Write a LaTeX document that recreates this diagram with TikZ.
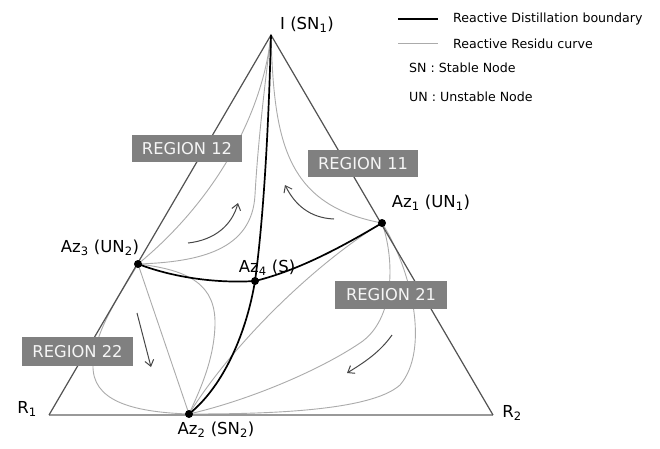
\documentclass[tikz,border=0pt]{standalone}
\usepackage{fontspec}
\setmainfont{DejaVu Sans}
\usetikzlibrary{arrows.meta}
\begin{document}
\begin{tikzpicture}[x=1pt,y=-1pt,
  edge/.style={draw=black!68, line width=1.2pt},
  baseedge/.style={draw=black!40, line width=1.8pt},
  bnd/.style={draw=black, line width=1.7pt},
  rcurve/.style={draw=black!33, line width=0.9pt},
  flow/.style={draw=black!72, line width=1pt, -{Straight Barb[length=6pt,width=9pt,line width=1pt]}},
  region/.style={fill=black!50, text=black!4, font=\fontsize{16.3}{18}\selectfont, minimum height=27pt, inner sep=0pt},
  azpt/.style={circle, fill=black, minimum size=8pt, inner sep=0pt},
  lbl/.style={font=\fontsize{16.5}{18}\selectfont, inner sep=0pt},
  leg/.style={font=\fontsize{12.6}{14}\selectfont, anchor=west, inner sep=0pt}
]
\useasboundingbox[fill=white] (0,0) rectangle (660,448);
% vertices
\coordinate (I) at (271,35);
\coordinate (R1) at (49,415);
\coordinate (R2) at (493,415);
\coordinate (Az1c) at (382,223);
\coordinate (Az2c) at (189,414);
\coordinate (Az3c) at (138,264);
\coordinate (Az4c) at (255,281);
% residue curves
\draw[rcurve] (Az3c) .. controls (210,205) and (262,120) .. (I);
\draw[rcurve] (Az3c) .. controls (200,262) and (252,250) .. (255,195) .. controls (258,140) and (266,75) .. (I);
\draw[rcurve] (I) .. controls (274,140) and (285,205) .. (Az1c);
\draw[rcurve] (Az1c) .. controls (320,260) and (235,340) .. (Az2c);
\draw[rcurve] (Az1c) .. controls (395,260) and (395,320) .. (360,343) .. controls (320,370) and (250,400) .. (Az2c);
\draw[rcurve] (Az1c) .. controls (412,270) and (430,350) .. (400,385) .. controls (370,412) and (260,414) .. (Az2c);
\draw[rcurve] (Az3c) -- (Az2c);
\draw[rcurve] (Az3c) .. controls (118,298) and (95,330) .. (93,365) .. controls (92,400) and (130,412) .. (Az2c);
\draw[rcurve] (Az3c) .. controls (190,270) and (216,285) .. (215,325) .. controls (214,360) and (200,390) .. (Az2c);
% triangle
\draw[baseedge] (R1) -- (R2);
\draw[edge] (R1) -- (I) -- (R2);
% boundaries
\draw[bnd] (I) .. controls (268,150) and (262,230) .. (Az4c);
\draw[bnd] (Az4c) .. controls (247,330) and (225,385) .. (Az2c);
\draw[bnd] (Az3c) .. controls (180,280) and (225,283) .. (Az4c);
\draw[bnd] (Az4c) .. controls (300,270) and (345,245) .. (Az1c);
% points
\node[azpt] (Az1) at (Az1c) {};
\node[azpt] (Az2) at (Az2c) {};
\node[azpt] (Az3) at (Az3c) {};
\node[azpt] (Az4) at (Az4c) {};
% flow arrows
\coordinate (a1s) at (188,243); \coordinate (a1e) at (238,203);
\coordinate (a2s) at (334,219); \coordinate (a2e) at (285,185);
\coordinate (a3s) at (137,313); \coordinate (a3e) at (151,367);
\coordinate (a4s) at (392,335); \coordinate (a4e) at (347,373);
\draw[flow] (a1s) .. controls (215,240) and (232,225) .. (a1e);
\draw[flow] (a2s) .. controls (310,218) and (295,205) .. (a2e);
\draw[flow] (a3s) -- (a3e);
\draw[flow] (a4s) .. controls (380,352) and (365,362) .. (a4e);
% region boxes
\node[region, minimum width=110pt] (r12) at (187,148.5) {REGION 12};
\node[region, minimum width=110pt] (r11) at (363,163.5) {REGION 11};
\node[region, minimum width=111pt, minimum height=29pt] (r22) at (77.5,351.5) {REGION 22};
\node[region, minimum width=112pt, minimum height=28pt] (r21) at (391,295) {REGION 21};
% labels
\node[lbl] (lI) at (307,25) {I (SN\textsubscript{1})};
\node[lbl] (lAz1) at (431,203) {Az\textsubscript{1} (UN\textsubscript{1})};
\node[lbl] (lAz3) at (100,248) {Az\textsubscript{3} (UN\textsubscript{2})};
\node[lbl] (lAz4) at (267,268) {Az\textsubscript{4} (S)};
\node[lbl] (lAz2) at (216,430) {Az\textsubscript{2} (SN\textsubscript{2})};
\node[lbl] (lR1) at (27,409) {R\textsubscript{1}};
\node[lbl] (lR2) at (512,413) {R\textsubscript{2}};
% legend
\coordinate (lg1a) at (398,19); \coordinate (lg1b) at (438,19);
\coordinate (lg2a) at (398,43); \coordinate (lg2b) at (438,43);
\draw[draw=black, line width=1.8pt] (lg1a) -- (lg1b);
\draw[rcurve] (lg2a) -- (lg2b);
\node[leg] (t1) at (453,19) {Reactive Distillation boundary};
\node[leg] (t2) at (453,44) {Reactive Residu curve};
\node[leg] (t3) at (409,68) {SN : Stable Node};
\node[leg] (t4) at (409,97) {UN : Unstable Node};
\end{tikzpicture}
\end{document}
